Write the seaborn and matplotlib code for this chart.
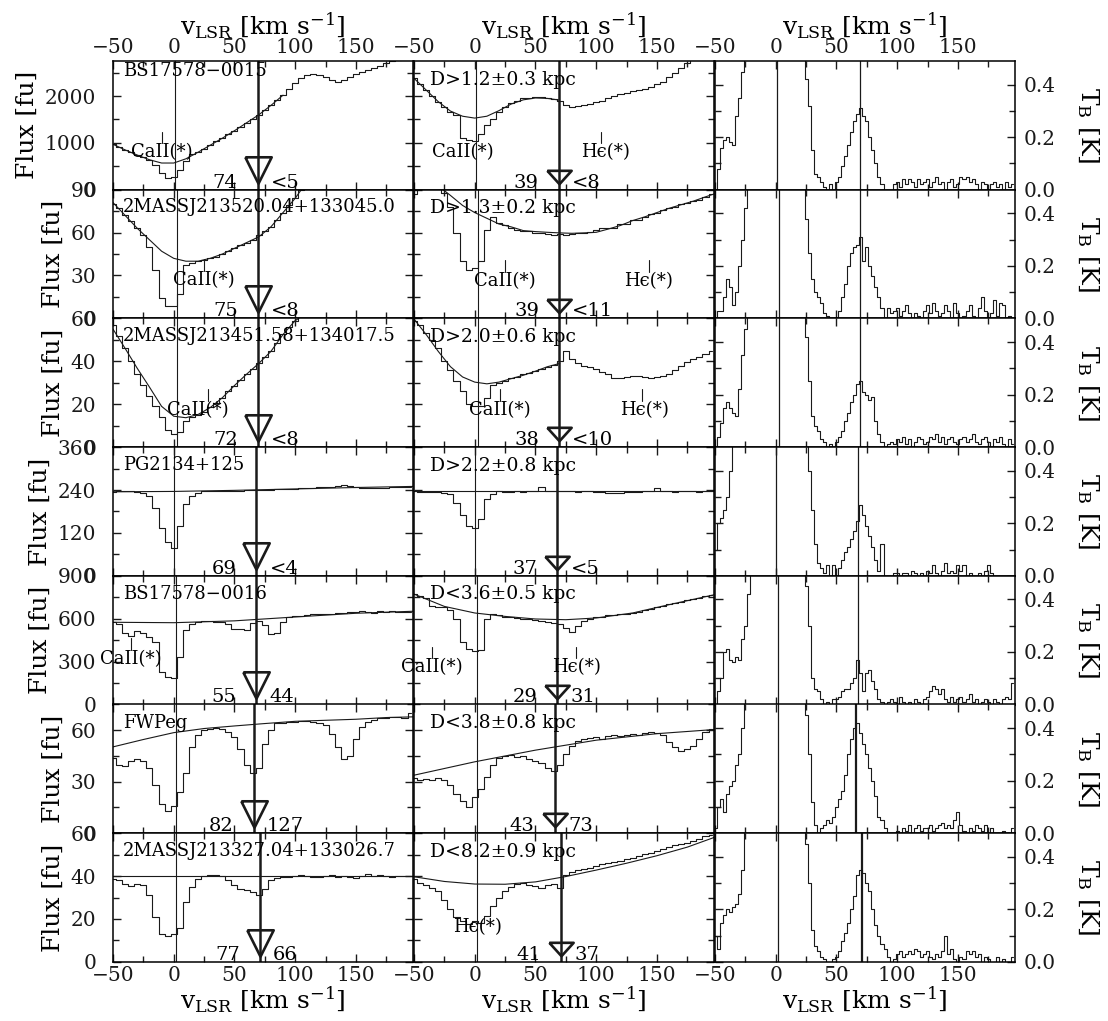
import matplotlib
matplotlib.use("Agg")
import matplotlib.pyplot as plt
import matplotlib.transforms as mtransforms
from matplotlib.ticker import MultipleLocator, FormatStrFormatter
import seaborn as sns
import numpy as np

# velocity grids (km/s): optical spectra binned at 5, HI at 2.5
VEL = np.arange(-50, 200, 5)
VEL_HI = np.arange(-50, 196, 2.5)

# ---- optical spectra, left column (star), flux in fu ----
FLUX_L1 = [970, 910, 850, 795, 740, 690, 640, 520, 360, 240,
           280, 420, 620, 770, 810, 880, 950, 1030, 1100, 1180,
           1260, 1340, 1430, 1510, 1600, 1700, 1800, 1910, 2020, 2150,
           2280, 2390, 2450, 2470, 2450, 2400, 2340, 2300, 2340, 2410,
           2470, 2520, 2560, 2600, 2650, 2700, 2740, 2780, 2800, 2820]
FLUX_L2 = [80, 77, 72, 68, 63, 58, 50, 34, 14, 9,
           9, 17, 37, 39, 40, 41, 42, 43, 45, 47,
           49, 51, 53, 55, 58, 61, 64, 69, 74, 79,
           84, 90, 95, 100, 105, 110, 115, 120, 125, 130,
           135, 140, 145, 150, 155, 160, 165, 170, 175, 180]
FLUX_L3 = [57, 52, 46, 40, 34, 29, 24, 19, 14, 8,
           6, 7, 12, 14, 15, 16.5, 18.5, 20.5, 23, 26,
           28.7, 31.5, 34, 36.5, 39, 42, 44.6, 48.5, 52.5, 56,
           59, 62, 65, 68, 71, 74, 77, 80, 83, 86,
           89, 92, 95, 98, 101, 104, 107, 110, 113, 116]
FLUX_L4 = [235, 238, 238, 236, 235, 232, 222, 190, 135, 95,
           77, 140, 200, 222, 233, 236, 237, 237, 237, 238,
           238, 238, 239, 239, 239, 240, 241, 242, 243, 243,
           244, 245, 245, 246, 247, 248, 249, 250, 253, 250,
           247, 246, 245, 246, 245, 246, 247, 247, 248, 248]
FLUX_L5 = [575, 560, 500, 480, 515, 500, 470, 440, 230, 190,
           185, 330, 520, 560, 575, 585, 582, 580, 580, 560,
           530, 525, 522, 570, 585, 555, 490, 500, 580, 615,
           620, 622, 625, 630, 635, 630, 635, 640, 640, 645,
           650, 655, 650, 640, 655, 650, 655, 645, 650, 645]
FLUX_L6 = [44, 40, 39, 42, 43, 42, 38, 28, 17, 13,
           16, 24, 35, 50, 57, 60, 61, 61.5, 61, 59,
           56, 49, 40, 35, 38, 52, 60, 64, 64.5, 65,
           65, 65.5, 65.5, 65, 64.5, 63, 58, 50, 43, 45,
           55, 62, 65, 66, 67, 67, 67.5, 67.5, 67, 70]
FLUX_L7 = [38.5, 38, 36.5, 35.5, 36.5, 36, 31, 21, 13, 12,
           13, 16, 28, 35, 38.5, 40, 40.5, 40.5, 40, 38,
           36, 34, 33.5, 32.5, 31, 34, 38, 39, 39.5, 39.5,
           40, 40.5, 40, 39.5, 39.5, 40, 40.5, 39.5, 40, 39.5,
           39, 40, 41, 40, 40.5, 40, 39.5, 40, 40, 40]

# ---- optical spectra, middle column (star with distance) ----
FLUX_M1 = [2380, 2250, 2130, 2000, 1880, 1760, 1660, 1600, 1100, 1060,
           1030, 1200, 1380, 1520, 1650, 1760, 1850, 1900, 1950, 1970,
           1980, 1990, 1960, 1940, 1900, 1820, 1760, 1790, 1800, 1840,
           1870, 1900, 1960, 2000, 2050, 2060, 2100, 2130, 2150, 2200,
           2250, 2300, 2400, 2500, 2600, 2700, 2800, 2850, 2900, 2950]
FLUX_M2 = [87, 92, 95, 95, 94, 88, 78, 60, 40, 34,
           35, 40, 62, 71, 67, 65, 63, 62, 61, 61,
           60, 60, 59, 58.5, 59, 58, 59, 59.5, 60, 60.5,
           62, 63, 63.5, 63, 66, 66, 69, 69, 71, 73,
           74, 76, 77, 78, 80, 81, 82, 83, 85, 87]
FLUX_M3 = [59, 57, 53, 50, 46, 40, 36, 31, 26, 20,
           19, 19, 23, 29, 30, 31, 32, 32.5, 34, 34.5,
           35.5, 36.5, 37.5, 38.5, 40, 45, 41, 39, 38, 37.5,
           36.5, 35, 34, 32, 32, 32.5, 33, 33, 32.5, 32,
           32.5, 33, 34, 36, 38, 39.5, 41, 42, 43.5, 45]
FLUX_M4 = [236, 235, 235, 234, 235, 233, 228, 205, 170, 138,
           133, 160, 215, 230, 236, 235, 234, 236, 235, 237,
           238, 247, 236, 236, 237, 236, 236, 235, 236, 236,
           235, 235, 233, 232, 233, 234, 235, 235, 236, 238,
           246, 236, 236, 235, 236, 236, 236, 235, 236, 236]
FLUX_M5 = [775, 760, 745, 690, 685, 680, 660, 600, 440, 385,
           372, 380, 600, 635, 625, 615, 610, 605, 600, 598,
           590, 585, 575, 570, 565, 535, 505, 550, 585, 600,
           610, 615, 625, 628, 630, 632, 640, 650, 660, 670,
           680, 690, 700, 708, 720, 730, 740, 745, 760, 765]
FLUX_M6 = [32, 31, 31.5, 31, 32, 31, 28, 23, 19, 15.5,
           21, 26, 33, 40, 44, 45, 45.5, 44.5, 45, 43,
           42, 41, 38, 36, 40, 46, 51, 54, 55, 55.5,
           56, 55, 56.5, 57, 56.5, 57.5, 58, 57.5, 58.5, 59,
           58.5, 57, 53, 50, 48, 49, 51, 55, 59, 61]
FLUX_M7 = [38.5, 37, 36, 34.5, 33, 29, 24.5, 21, 19, 17.5,
           19, 18, 21.5, 26, 30, 33, 35, 36.5, 37, 36,
           35.5, 34.5, 36, 36.5, 34.5, 40.5, 42, 43, 43.5, 44,
           44.5, 45.5, 46, 46.5, 47, 48, 48.5, 49.5, 50.5, 51,
           51.5, 52.5, 53.5, 54.5, 55, 55.5, 56.5, 57.5, 58.5, 59]

# ---- HI brightness temperature (K), right column; one line per 25 km/s ----
TB_1 = [0.0, 0.08, 0.16, 0.19, 0.2, 0.18, 0.17, 0.28, 0.35, 0.45,
        0.6, 0.8, 1.2, 1.8, 2.5, 3.0, 3.5, 4.0, 4.5, 5.0,
        5.0, 5.0, 4.5, 4.0, 3.5, 3.0, 2.3, 1.5, 0.9, 0.6,
        0.42, 0.32, 0.15, 0.06, 0.05, 0.03, 0.01, 0.0, 0.02, 0.0,
        0.03, 0.05, 0.09, 0.13, 0.17, 0.22, 0.26, 0.29, 0.31, 0.28,
        0.26, 0.2, 0.15, 0.1, 0.05, 0.02, -0.01, 0.0, -0.01, 0.02,
        0.03, 0.01, 0.04, 0.02, 0.04, 0.03, 0.01, 0.04, 0.02, 0.03,
        0.04, 0.01, 0.03, 0.05, 0.02, 0.03, 0.0, 0.03, 0.04, 0.01,
        0.02, 0.05, 0.04, 0.05, 0.03, 0.04, 0.02, 0.0, 0.03, 0.02,
        0.0, 0.02, 0.03, 0.01, 0.02, 0.0, 0.03, 0.01, 0.02]
TB_2 = [0.0, 0.03, 0.03, 0.08, 0.15, 0.12, 0.05, 0.1, 0.2, 0.3,
        0.42, 0.6, 1.0, 1.6, 2.3, 3.0, 3.5, 4.0, 4.5, 5.0,
        5.0, 5.0, 4.5, 4.0, 3.5, 3.0, 2.3, 1.5, 0.9, 0.6,
        0.38, 0.25, 0.15, 0.1, 0.08, 0.06, 0.02, 0.01, 0.0, -0.01,
        0.0, 0.03, 0.08, 0.13, 0.2, 0.25, 0.27, 0.28, 0.31, 0.22,
        0.27, 0.2, 0.16, 0.12, 0.08, 0.04, 0.0, 0.04, 0.02, 0.03,
        0.04, 0.01, 0.03, 0.05, 0.02, 0.0, 0.02, 0.01, 0.0, 0.03,
        0.05, 0.02, 0.06, 0.03, 0.01, 0.02, 0.05, 0.03, 0.0, 0.06,
        0.02, 0.0, 0.01, 0.03, 0.05, 0.01, 0.0, 0.04, 0.08, 0.03,
        0.0, 0.02, 0.07, 0.01, 0.06, 0.05, 0.0, 0.01, 0.0]
TB_3 = [0.0, 0.04, 0.09, 0.15, 0.17, 0.15, 0.13, 0.12, 0.22, 0.35,
        0.45, 0.7, 1.0, 1.6, 2.3, 3.0, 3.5, 4.0, 4.5, 5.0,
        5.0, 5.0, 4.5, 4.0, 3.5, 3.0, 2.3, 1.5, 0.9, 0.6,
        0.42, 0.25, 0.12, 0.08, 0.06, 0.03, 0.02, 0.0, 0.01, 0.0,
        0.02, 0.04, 0.06, 0.1, 0.13, 0.17, 0.2, 0.24, 0.25, 0.21,
        0.2, 0.18, 0.19, 0.1, 0.05, 0.02, 0.0, 0.01, 0.02, 0.01,
        0.03, 0.02, 0.04, 0.01, 0.03, 0.0, 0.02, 0.04, 0.03, 0.01,
        0.02, 0.04, 0.03, 0.05, 0.02, 0.04, 0.01, 0.03, 0.04, 0.02,
        0.01, 0.03, 0.04, 0.02, 0.03, 0.05, 0.02, 0.01, 0.03, 0.04,
        0.02, 0.0, 0.03, 0.02, 0.04, 0.01, 0.0, 0.03, 0.01]
TB_4 = [0.1, 0.2, 0.22, 0.25, 0.3, 0.4, 0.55, 0.8, 1.2, 1.6,
        2.0, 2.5, 3.0, 3.5, 4.0, 4.5, 5.0, 5.0, 5.0, 5.0,
        5.0, 5.0, 4.5, 4.0, 3.5, 3.0, 2.3, 1.5, 1.0, 0.7,
        0.5, 0.4, 0.25, 0.12, 0.05, 0.03, 0.01, 0.04, 0.0, 0.04,
        0.0, 0.03, 0.06, 0.09, 0.11, 0.14, 0.17, 0.21, 0.27, 0.23,
        0.19, 0.15, 0.11, 0.06, 0.02, 0.12, 0.0, -0.01, 0.0, 0.01,
        0.01, 0.0, 0.01, 0.01, 0.0, 0.02, 0.01, 0.0, 0.01, 0.0,
        0.02, 0.01, 0.04, 0.01, 0.0, 0.02, 0.05, 0.01, 0.02, 0.01,
        0.04, 0.02, 0.04, 0.0, 0.01, -0.01, 0.0, 0.01, 0.0, 0.02,
        0.04, 0.01, 0.0, -0.01, 0.0, 0.0, 0.0, 0.0, 0.0]
TB_5 = [0.0, 0.05, 0.1, 0.2, 0.21, 0.17, 0.16, 0.18, 0.17, 0.25,
        0.3, 0.42, 0.7, 1.2, 2.0, 3.0, 3.5, 4.0, 4.5, 5.0,
        5.0, 5.0, 4.5, 4.0, 3.5, 3.0, 2.3, 1.5, 0.9, 0.6,
        0.45, 0.3, 0.1, 0.06, 0.05, 0.02, 0.0, 0.01, 0.0, 0.02,
        0.02, 0.03, 0.05, 0.06, 0.06, 0.08, 0.1, 0.17, 0.12, 0.05,
        0.12, 0.13, 0.09, 0.06, 0.02, 0.01, 0.0, 0.01, 0.02, 0.01,
        0.0, 0.03, 0.01, 0.0, 0.01, 0.0, 0.02, 0.01, 0.0, 0.02,
        0.03, 0.05, 0.07, 0.06, 0.04, 0.06, 0.02, 0.01, 0.03, 0.01,
        0.02, 0.03, 0.01, 0.02, 0.04, 0.01, 0.02, 0.0, 0.01, 0.02,
        0.01, 0.0, 0.02, 0.01, 0.0, 0.02, 0.03, 0.02, 0.08]
TB_6 = [0.02, 0.1, 0.13, 0.08, 0.15, 0.18, 0.2, 0.26, 0.3, 0.4,
        0.55, 0.8, 1.2, 2.0, 3.0, 3.5, 4.0, 4.5, 5.0, 5.0,
        5.0, 5.0, 4.5, 4.0, 3.5, 3.0, 2.3, 1.5, 0.9, 0.55,
        0.45, 0.3, 0.12, 0.03, 0.0, 0.02, 0.03, 0.05, 0.04, 0.06,
        0.1, 0.13, 0.16, 0.22, 0.3, 0.36, 0.4, 0.42, 0.38, 0.34,
        0.3, 0.25, 0.2, 0.14, 0.06, 0.05, 0.02, 0.0, -0.01, 0.0,
        0.01, 0.0, 0.02, 0.01, 0.03, 0.0, 0.02, 0.03, 0.01, 0.02,
        0.02, 0.03, 0.01, 0.02, 0.03, 0.04, 0.02, 0.03, 0.02, 0.05,
        0.08, 0.03, 0.01, 0.0, 0.02, 0.01, 0.03, 0.02, 0.01, 0.03,
        0.0, 0.02, 0.0, -0.01, 0.0, 0.01, 0.0, 0.0, 0.02]
TB_7 = [0.1, 0.05, 0.15, 0.18, 0.2, 0.19, 0.21, 0.22, 0.26, 0.35,
        0.5, 0.8, 1.2, 2.0, 3.0, 3.5, 4.0, 4.5, 5.0, 5.0,
        5.0, 5.0, 4.5, 4.0, 3.5, 3.0, 2.3, 1.5, 0.9, 0.6,
        0.45, 0.3, 0.12, 0.06, 0.04, 0.02, 0.01, 0.0, 0.0, 0.01,
        0.02, 0.04, 0.08, 0.11, 0.15, 0.2, 0.25, 0.33, 0.35, 0.34,
        0.3, 0.27, 0.2, 0.14, 0.1, 0.07, 0.05, 0.02, 0.0, 0.01,
        0.03, 0.04, 0.02, 0.03, 0.04, 0.03, 0.05, 0.04, 0.02, 0.03,
        0.04, 0.02, 0.01, 0.03, 0.02, 0.04, 0.1, 0.03, 0.05, 0.01,
        0.0, 0.02, 0.01, 0.04, 0.03, 0.04, 0.02, 0.03, 0.0, 0.02,
        0.01, -0.01, 0.0, 0.02, 0.0, 0.01, 0.0, 0.0, 0.02]

# ---- continuum fits (velocity nodes, flux) ----
CONT_V_L1 = [-50, -40, -30, -20, -10, 0, 10, 20, 30, 40, 50, 60, 70, 80, 90]
CONT_F_L1 = [970, 850, 740, 640, 570, 570, 660, 800, 950, 1100, 1260, 1430, 1600, 1800, 2020]
CONT_V_M1 = [-50, -40, -30, -20, -10, 0, 10, 20, 30, 40, 50, 60, 70]
CONT_F_M1 = [2380, 2130, 1880, 1680, 1570, 1530, 1570, 1690, 1830, 1920, 1960, 1950, 1914]
CONT_V_L2 = [-50, -40, -30, -20, -10, 0, 10, 20, 30, 40, 50, 60, 70, 80, 90, 100, 105]
CONT_F_L2 = [81, 72, 63, 55, 47, 42, 40, 40, 42, 45, 49, 53, 57, 64, 74, 84, 90]
CONT_V_M2 = [-26, -20, -10, 0, 10, 20, 30, 40, 50, 60, 70, 80, 90, 100, 110, 120, 130, 140, 150, 160, 170, 180, 190, 197]
CONT_F_M2 = [90, 86, 79, 74, 70, 66, 64, 61.4, 60.7, 60.2, 59.8, 59.5, 59.8, 60.2, 62.5, 65, 68.4, 71, 74, 77, 79.5, 82, 85, 87]
CONT_V_L3 = [-50, -40, -30, -20, -10, 0, 10, 20, 30, 40, 50, 60, 70, 80, 90, 100, 103]
CONT_F_L3 = [55, 46, 36.7, 28, 19, 14.4, 13.7, 15.2, 18.4, 23, 28.7, 34, 39, 44.6, 52.5, 59, 60]
CONT_V_M3 = [-50, -40, -30, -20, -10, 0, 10, 20, 30, 40, 50, 60, 70]
CONT_F_M3 = [59.7, 52.5, 44.6, 37.5, 32.7, 30.3, 29.5, 30.3, 31.9, 33.5, 35.4, 37.5, 39]
CONT_V_L4 = [-50, 0, 50, 100, 150, 197]
CONT_F_L4 = [235, 236, 239, 243, 247, 250]
CONT_V_M4 = [-50, 197]
CONT_F_M4 = [236, 236]
CONT_V_L5 = [-50, 0, 50, 100, 150, 197]
CONT_F_L5 = [575, 572, 585, 612, 638, 652]
CONT_V_M5 = [-50, -25, 0, 25, 50, 75, 100, 130, 160, 197]
CONT_F_M5 = [772, 686, 640, 616, 598, 593, 605, 640, 698, 767]
CONT_V_L6 = [-50, -25, 0, 25, 50, 75, 100, 125, 150, 175, 197]
CONT_F_L6 = [50.3, 54.6, 58.6, 61, 62.5, 63.9, 65.2, 65.8, 66.4, 67.4, 67.8]
CONT_V_M6 = [-50, 0, 50, 100, 150, 197]
CONT_F_M6 = [33.8, 41.6, 48.4, 54.2, 58, 60.4]
CONT_V_L7 = [-50, 197]
CONT_F_L7 = [40, 40]
CONT_V_M7 = [-50, -25, 0, 25, 50, 75, 100, 125, 150, 175, 197]
CONT_F_M7 = [39.7, 37.5, 36.3, 36.2, 37.3, 39.8, 42.8, 46, 49.5, 53.5, 58]

# ---- per-row annotations ----
NAMES = ["BS17578\u22120015", "2MASSJ213520.04+133045.0", "2MASSJ213451.58+134017.5",
         "PG2134+125", "BS17578\u22120016", "FWPeg", "2MASSJ213327.04+133026.7"]
NAME_Y = [0.925, 0.865, 0.865, 0.862, 0.86, 0.855, 0.86]
DISTS = ["D>1.2\u00b10.3 kpc", "D>1.3\u00b10.2 kpc", "D>2.0\u00b10.6 kpc", "D>2.2\u00b10.8 kpc",
         "D<3.6\u00b10.5 kpc", "D<3.8\u00b10.8 kpc", "D<8.2\u00b10.9 kpc"]
V_STAR = [1, 3, 3, 0, 1.5, 1.5, 1.5]
V_CLOUD = [69, 69.5, 69.5, 68, 68, 66, 71]
LEFT_NUMS = [("74", "<5"), ("75", "<8"), ("72", "<8"), ("69", "<4"),
             ("55", "44"), ("82", "127"), ("77", "66")]
MID_NUMS = [("39", "<8"), ("39", "<11"), ("38", "<10"), ("37", "<5"),
            ("29", "31"), ("43", "73"), ("41", "37")]
YMAX = [2750, 90, 60, 360, 900, 75, 60]
YSTEP = [1000, 30, 20, 120, 300, 30, 20]
TB_MAX = 0.49

CA = "CaII(*)"
HE = "H\u03f5(*)"
# (label, text velocity, mark velocity or None, text height in axes fraction)
LEFT_IDS = [[(CA, -10, -10, 0.29)], [(CA, 25, 25, 0.30)], [(CA, 20, 28.5, 0.29)], [],
            [(CA, -35, -35, 0.355)], [], []]
MID_IDS = [[(CA, -10, None, 0.29), (HE, 108, 104, 0.29)],
           [(CA, 25, 25, 0.29), (HE, 143, 143.5, 0.29)],
           [(CA, 21, 20.5, 0.29), (HE, 140, 138, 0.29)],
           [],
           [(CA, -35.5, -35.5, 0.29), (HE, 84, 83, 0.29)],
           [],
           [(HE, 2, None, 0.27)]]

LEFT_FLUX = [FLUX_L1, FLUX_L2, FLUX_L3, FLUX_L4, FLUX_L5, FLUX_L6, FLUX_L7]
MID_FLUX = [FLUX_M1, FLUX_M2, FLUX_M3, FLUX_M4, FLUX_M5, FLUX_M6, FLUX_M7]
TB = [TB_1, TB_2, TB_3, TB_4, TB_5, TB_6, TB_7]
LEFT_CONT = [(CONT_V_L1, CONT_F_L1), (CONT_V_L2, CONT_F_L2), (CONT_V_L3, CONT_F_L3),
             (CONT_V_L4, CONT_F_L4), (CONT_V_L5, CONT_F_L5), (CONT_V_L6, CONT_F_L6),
             (CONT_V_L7, CONT_F_L7)]
MID_CONT = [(CONT_V_M1, CONT_F_M1), (CONT_V_M2, CONT_F_M2), (CONT_V_M3, CONT_F_M3),
            (CONT_V_M4, CONT_F_M4), (CONT_V_M5, CONT_F_M5), (CONT_V_M6, CONT_F_M6),
            (CONT_V_M7, CONT_F_M7)]

sns.set_theme(style="ticks")
plt.rcParams["font.family"] = ["DejaVu Serif", "DejaVu Sans"]
plt.rcParams["mathtext.fontset"] = "dejavuserif"
plt.rcParams["axes.linewidth"] = 1.1
for key in ["text.color", "axes.labelcolor", "xtick.color", "ytick.color", "axes.edgecolor"]:
    plt.rcParams[key] = "black"

FS = 14.5        # tick labels
FS_TXT = 13.5    # in-panel texts
FS_LAB = 18      # axis labels
XLABEL = r"v$_{\rm LSR}$ [km s$^{-1}$]"
TRI_BIG = [(-1, 1), (1, 1), (0, -1), (-1, 1)]
TRI_FLAT = [(-1, 0.55), (1, 0.55), (0, -0.55), (-1, 0.55)]

W, H = 1108, 1021
COL_X = [113, 414, 715]
COL_W = 300
ROW_TOP = 61
ROW_H = 128.7

fig = plt.figure(figsize=(W / 100, H / 100), dpi=100)


def make_axes(col, row):
    y0 = 1 - (ROW_TOP + ROW_H * (row + 1)) / H
    return fig.add_axes([COL_X[col] / W, y0, COL_W / W, ROW_H / H])


def style_axes(ax, col, row, ymax, ystep):
    ax.set_xlim(-50, 197)
    ax.set_ylim(0, ymax)
    ax.xaxis.set_major_locator(MultipleLocator(50))
    ax.xaxis.set_minor_locator(MultipleLocator(25))
    ax.yaxis.set_major_locator(MultipleLocator(ystep))
    ax.yaxis.set_minor_locator(MultipleLocator(ystep / 2))
    ax.tick_params(which="both", direction="in", top=True, bottom=True,
                   left=True, right=True, width=1.0, colors="k", labelsize=FS)
    ax.tick_params(which="major", length=6)
    ax.tick_params(which="minor", length=4)
    ax.tick_params(axis="x", labelbottom=(row == 6), labeltop=(row == 0), pad=3)
    ax.tick_params(axis="y", labelleft=(col == 0), labelright=(col == 2),
                   pad=12 if col == 0 else 6)
    ax.set_xlabel("")
    ax.set_ylabel("")
    if row == 0:
        ax.xaxis.set_label_position("top")
        ax.set_xlabel(XLABEL, fontsize=FS_LAB, labelpad=2)
    if row == 6:
        ax.set_xlabel(XLABEL, fontsize=FS_LAB, labelpad=0)


def optical_panel(ax, row, flux, cont, nums, ids, tri):
    sns.lineplot(x=VEL, y=flux, ax=ax, color="k", lw=0.8, drawstyle="steps-mid",
                 estimator=None, legend=False)
    sns.lineplot(x=cont[0], y=cont[1], ax=ax, color="k", lw=0.8,
                 estimator=None, legend=False, sort=False)
    ax.axvline(V_STAR[row], color="k", lw=0.8)
    ax.axvline(V_CLOUD[row], color="k", lw=1.8)
    trans = mtransforms.blended_transform_factory(ax.transData, ax.transAxes)
    if tri == "big":
        ax.plot([V_CLOUD[row]], [0.15], transform=trans, marker=TRI_BIG, ms=19,
                mfc="none", mec="k", mew=1.9, ls="none", clip_on=False)
    else:
        ax.plot([V_CLOUD[row]], [0.1], transform=trans, marker=TRI_FLAT, ms=17.5,
                mfc="none", mec="k", mew=1.9, ls="none", clip_on=False)
    ax.annotate(nums[0], xy=(V_CLOUD[row], 0), xycoords=trans, xytext=(-14.5, 1.5),
                textcoords="offset points", ha="right", va="baseline", fontsize=14)
    ax.annotate(nums[1], xy=(V_CLOUD[row], 0), xycoords=trans, xytext=(9.5, 1.5),
                textcoords="offset points", ha="left", va="baseline", fontsize=14)
    for label, vt, vm, yt in ids:
        ax.text(vt, yt, label, transform=trans, ha="center", va="center", fontsize=13)
        if vm is not None:
            ax.axvline(vm, ymin=yt + 0.07, ymax=yt + 0.16, color="k", lw=0.8)


for row in range(7):
    # left: star spectrum
    ax = make_axes(0, row)
    optical_panel(ax, row, LEFT_FLUX[row], LEFT_CONT[row], LEFT_NUMS[row],
                  LEFT_IDS[row], "big")
    style_axes(ax, 0, row, YMAX[row], YSTEP[row])
    ax.set_ylabel("Flux [fu]", fontsize=FS_LAB, labelpad=4)
    ax.text(0.033, NAME_Y[row], NAMES[row], transform=ax.transAxes,
            ha="left", va="center", fontsize=13)

    # middle: second star with distance
    ax = make_axes(1, row)
    optical_panel(ax, row, MID_FLUX[row], MID_CONT[row], MID_NUMS[row],
                  MID_IDS[row], "flat")
    style_axes(ax, 1, row, YMAX[row], YSTEP[row])
    ax.text(0.053, 0.855, DISTS[row], transform=ax.transAxes,
            ha="left", va="center", fontsize=FS_TXT)

    # right: HI spectrum
    ax = make_axes(2, row)
    sns.lineplot(x=VEL_HI, y=TB[row], ax=ax, color="k", lw=0.8, drawstyle="steps-mid",
                 estimator=None, legend=False)
    ax.axvline(V_STAR[row], color="k", lw=0.9)
    ax.axvline(V_CLOUD[row], color="k", lw=1.6 if row >= 5 else 0.9)
    style_axes(ax, 2, row, TB_MAX, 0.2)
    ax.yaxis.set_major_formatter(FormatStrFormatter("%.1f"))
    ax.yaxis.set_label_position("right")
    ax.set_ylabel(r"T$_{\rm B}$ [K]", fontsize=FS_LAB, rotation=270, va="bottom", labelpad=14)

fig.savefig("out.png", dpi=100)
